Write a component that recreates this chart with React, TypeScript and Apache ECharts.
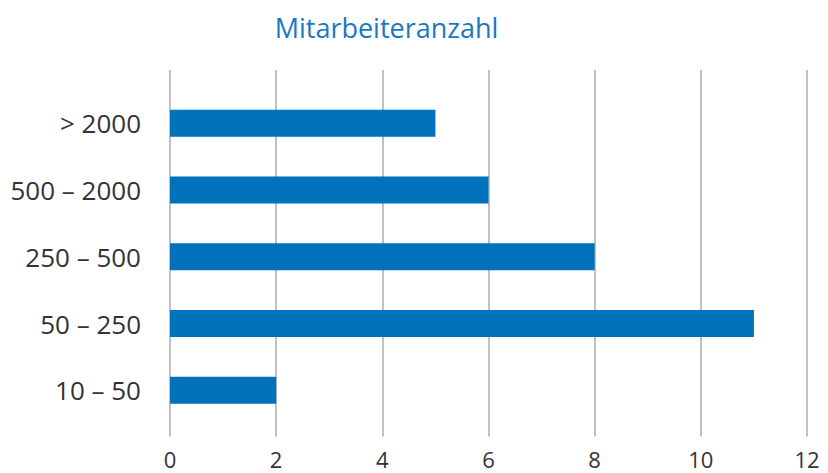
import React, { useEffect, useRef } from "react";
import * as echarts from "echarts";

const categories = ["10 – 50", "50 – 250", "250 – 500", "500 – 2000", "> 2000"];
const values = [2, 11, 8, 6, 5];
const xTicks = [0, 2, 4, 6, 8, 10, 12];
const titleText = "Mitarbeiteranzahl";

const FONT = "'Open Sans', 'Noto Sans', sans-serif";

export default function App() {
  const ref = useRef<HTMLDivElement>(null);
  useEffect(() => {
    if (!ref.current) return;
    const chart = echarts.init(ref.current, null, { renderer: "svg" });
    const xMin = xTicks[0];
    const xMax = xTicks[xTicks.length - 1];
    const interval = xTicks[1] - xTicks[0];
    chart.setOption({
      animation: false,
      backgroundColor: "#ffffff",
      graphic: [
        {
          type: "text",
          x: 386.5,
          y: 27,
          style: {
            text: titleText,
            fontFamily: FONT,
            fontSize: 27,
            fill: "#1a78c2",
            align: "center",
            verticalAlign: "middle",
          },
        },
      ],
      grid: [
        { left: 170, right: 21, top: 70, bottom: 36.5 },
        { left: 170, right: 21, top: 90, bottom: 49.3 },
      ],
      xAxis: [
        {
          type: "value",
          gridIndex: 0,
          min: xMin,
          max: xMax,
          interval,
          axisLine: { show: false },
          axisTick: { show: false },
          splitLine: { show: true, lineStyle: { color: "#ababab", width: 1.5 } },
          axisLabel: {
            fontFamily: FONT,
            fontSize: 22,
            lineHeight: 20,
            color: "#333333",
            margin: 12,
          },
        },
        {
          type: "value",
          gridIndex: 1,
          min: xMin,
          max: xMax,
          interval,
          show: false,
          splitLine: { show: false },
        },
      ],
      yAxis: [
        {
          type: "category",
          gridIndex: 0,
          data: categories,
          show: false,
        },
        {
          type: "category",
          gridIndex: 1,
          data: categories,
          axisLine: { show: false },
          axisTick: { show: false },
          splitLine: { show: false },
          axisLabel: {
            fontFamily: FONT,
            fontSize: 26,
            color: "#333333",
            margin: 29,
          },
        },
      ],
      series: [
        {
          type: "bar",
          xAxisIndex: 1,
          yAxisIndex: 1,
          data: values,
          barWidth: 27,
          itemStyle: { color: "#0071ba" },
        },
      ],
    });
    return () => chart.dispose();
  }, []);
  return (
    <div
      ref={ref}
      style={{ position: "fixed", left: 0, top: 0, width: 828, height: 473 }}
    />
  );
}
